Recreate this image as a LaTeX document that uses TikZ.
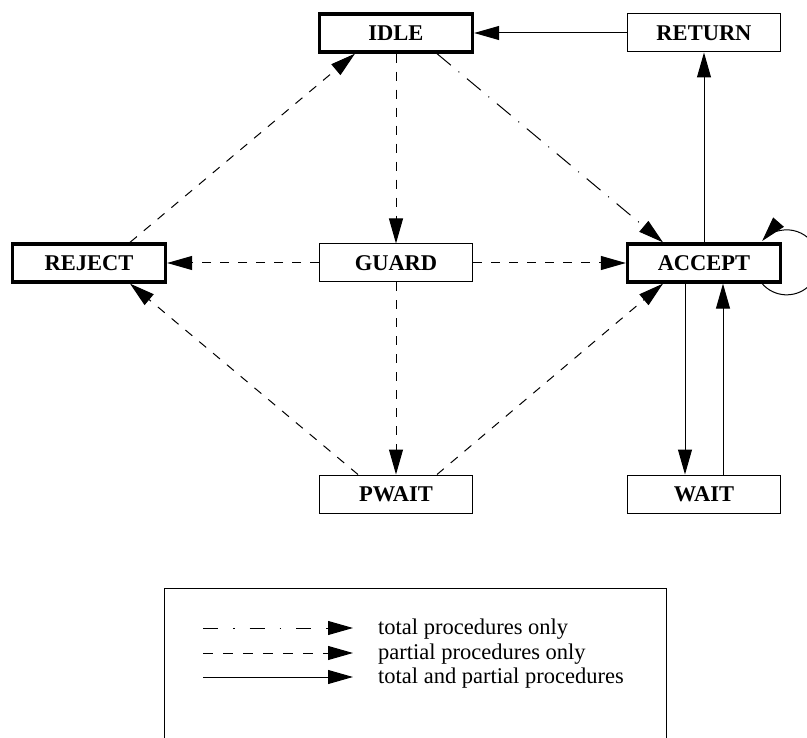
\documentclass[tikz,border=0pt]{standalone}
\usepackage{fontspec}
\setmainfont{Liberation Serif}
\usetikzlibrary{arrows.meta,calc}
\begin{document}
\begin{tikzpicture}[x=1pt,y=-1pt,
  box/.style={draw, line width=1pt, minimum width=153pt, minimum height=38pt, inner sep=0pt,
    font=\fontsize{22.5}{27}\selectfont\bfseries},
  thickbox/.style={box, line width=3.3pt},
  arr/.style={line width=1pt, -{Triangle[length=25pt,width=14pt]}},
  dsh/.style={arr, dash pattern=on 9pt off 9pt},
  dshdot/.style={arr, dash pattern=on 18pt off 10pt on 1pt off 10pt},
  legtext/.style={anchor=west, inner sep=0pt, font=\fontsize{22.5}{27}\selectfont}
]
\useasboundingbox (0,0) rectangle (807,738);

\node[thickbox] (IDLE)   at (396,33)  {IDLE};
\node[box]      (RETURN) at (704,33)  {RETURN};
\node[thickbox] (REJECT) at (89,263)  {REJECT};
\node[box]      (GUARD)  at (396,263) {GUARD};
\node[thickbox] (ACCEPT) at (704,263) {ACCEPT};
\node[box]      (PWAIT)  at (396,494) {PWAIT};
\node[box]      (WAIT)   at (704,494) {WAIT};

\draw[arr] (RETURN) -- (IDLE);
\draw[arr] (ACCEPT) -- (RETURN);
\draw[dshdot] ($(IDLE.south)+(41,0)$) -- ($(ACCEPT.north)+(-41,0)$);
\draw[dsh] ($(REJECT.north)+(41,0)$) -- ($(IDLE.south)+(-41,0)$);
\draw[dsh] (IDLE) -- (GUARD);
\draw[dsh] (GUARD) -- (REJECT);
\draw[dsh] (GUARD) -- (ACCEPT);
\draw[dsh] (GUARD) -- (PWAIT);
\draw[dsh] ($(PWAIT.north)+(-38,0)$) -- ($(REJECT.south)+(41,0)$);
\draw[dsh] ($(PWAIT.north)+(41,0)$) -- ($(ACCEPT.south)+(-41,0)$);
\draw[arr] ($(ACCEPT.south)+(-19,0)$) -- ($(WAIT.north)+(-19,0)$);
\draw[arr] ($(WAIT.north)+(19,0)$) -- ($(ACCEPT.south)+(19,0)$);
\draw[arr] ($(ACCEPT.south east)+(-20,0)$) arc[start angle=221, end angle=499, radius=32.5pt];

% legend
\draw[line width=1pt] (164,745) -- (164,588) -- (666,588) -- (666,745);
\coordinate (l1s) at (203,628); \coordinate (l1e) at (353,628);
\coordinate (l2s) at (203,653); \coordinate (l2e) at (353,653);
\coordinate (l3s) at (203,677); \coordinate (l3e) at (353,677);
\draw[arr, dash pattern=on 15pt off 15pt on 1.5pt off 15pt] (l1s) -- (l1e);
\draw[dsh, dash pattern=on 10pt off 10pt] (l2s) -- (l2e);
\draw[arr] (l3s) -- (l3e);
\node[legtext] (t1) at (378,629) {total procedures only};
\node[legtext] (t2) at (378,654) {partial procedures only};
\node[legtext] (t3) at (378,678) {total and partial procedures};
\end{tikzpicture}
\end{document}
